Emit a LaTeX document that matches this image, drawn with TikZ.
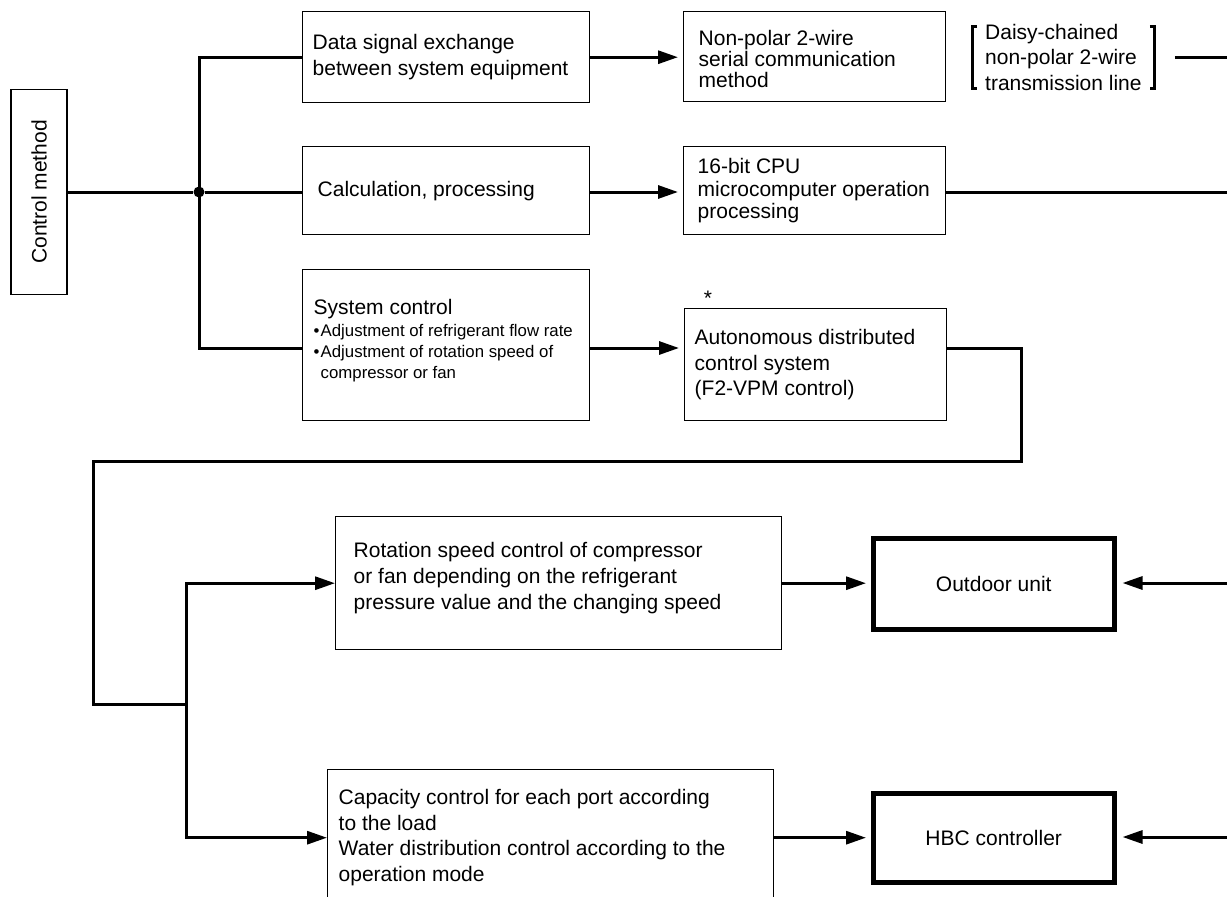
\documentclass[tikz,border=0pt]{standalone}
\usepackage{fontspec}
\setmainfont{Liberation Sans}
\usetikzlibrary{arrows.meta}

\tikzset{
  box/.style={draw, line width=1.4pt, align=flush left, anchor=north west, inner ysep=0pt},
  unitbox/.style={draw, line width=4.5pt, align=center, anchor=north west},
  wire/.style={line width=3pt},
  feed/.style={wire, -{Triangle[length=20pt,width=13pt]}, shorten >=5pt},
}

\begin{document}
\begin{tikzpicture}[x=1pt, y=-1pt, font=\fontsize{21}{26}\selectfont]
    \useasboundingbox (0,0) rectangle (1227,897);
    \clip (0,0) rectangle (1227,897);
    % 左侧总框
    \node[draw, line width=1.4pt, rotate=90, minimum width=205pt, minimum height=56pt] (ctrl) at (39,192) {Control method};
    \node[circle, fill, inner sep=0pt, minimum size=11pt] (dot) at (199,192) {};
    % 第一列
    \node[box, minimum width=287pt, minimum height=91pt, inner xsep=10pt, text width=267pt] (data) at (302,11)
        {Data signal exchange\\between system equipment};
    \node[box, minimum width=287pt, minimum height=88pt, inner xsep=15pt, text width=257pt] (calc) at (302,146)
        {Calculation, processing};
    \node[box, minimum width=287pt, minimum height=151pt, inner xsep=11pt, text width=265pt] (sysctl) at (302,269)
        {{\fontsize{21}{26}\selectfont System control}\\
         \fontsize{16.8}{21.5}\selectfont
         \makebox[7pt][l]{\textbullet}Adjustment of refrigerant flow rate\\
         \makebox[7pt][l]{\textbullet}Adjustment of rotation speed of\\[-5pt]
         \hspace*{7pt}compressor or fan\rule[-12pt]{0pt}{1pt}};
    % 第二列
    \node[box, minimum width=262pt, minimum height=90pt, inner xsep=15pt, text width=232pt,
          font=\fontsize{21}{21}\selectfont] (serial) at (683,11)
        {\rule{0pt}{20pt}Non-polar 2-wire\\serial communication\\method};
    \node[box, minimum width=262pt, minimum height=88pt, inner xsep=14pt, text width=234pt,
          font=\fontsize{21}{22.5}\selectfont] (cpu) at (683,146)
        {16-bit CPU\\microcomputer operation\\processing};
    \node[box, minimum width=262pt, minimum height=112pt, inner xsep=10pt, text width=242pt,
          font=\fontsize{21}{25.5}\selectfont] (auto) at (684,308)
        {Autonomous distributed\\control system\\(F2-VPM control)};
    \node[anchor=base] (star) at (708,305) {*};
    % 传输线说明 (方括号)
    \node[anchor=west, align=flush left, inner xsep=13pt, inner ysep=0pt,
          font=\fontsize{21}{25.5}\selectfont] (daisy) at (972,57)
        {Daisy-chained\\non-polar 2-wire\\transmission line};
    \draw[line width=3pt] ([xshift=5pt,yshift=31pt]daisy.west) -| ([yshift=-31pt]daisy.west) -- ++(5pt,0);
    \draw[line width=3pt] ([xshift=-5pt,yshift=31pt]daisy.east) -| ([yshift=-31pt]daisy.east) -- ++(-5pt,0);
    % 下半部分
    \node[box, minimum width=446pt, minimum height=133pt, inner xsep=18pt, text width=410pt] (rot) at (335,516)
        {Rotation speed control of compressor\\or fan depending on the refrigerant\\pressure value and the changing speed\rule[-14pt]{0pt}{1pt}};
    \node[box, minimum width=446pt, minimum height=136pt, inner xsep=11pt, text width=424pt,
          font=\fontsize{21}{25.5}\selectfont] (cap) at (327,769)
        {Capacity control for each port according\\to the load\\Water distribution control according to the\\operation mode};
    \node[unitbox, minimum width=241pt, minimum height=91pt] (outdoor) at (871,536) {Outdoor unit};
    \node[unitbox, minimum width=241pt, minimum height=89pt] (hbc) at (871,791) {HBC controller};
    % 辅助坐标
    \coordinate (y3) at (0,348);
    \coordinate (r2) at (1227,192);
    \coordinate (r3) at (1227,583);
    \coordinate (r4) at (1227,837);
    \coordinate (k1) at (1021,461);
    \coordinate (k2) at (93,704);
    \coordinate (fork) at (186,704);
    % 连线
    \draw[wire] (ctrl) -- (dot);
    \draw[wire] (data.west) -| (dot.center) |- (sysctl.west |- y3);
    \draw[wire] (dot) -- (dot -| calc.west);
    \draw[feed] (data.east) -- (data.east -| serial.west);
    \draw[feed] (calc.east |- dot) -- (cpu.west |- dot);
    \draw[feed] (sysctl.east |- y3) -- (auto.west |- y3);
    \draw[wire] ([xshift=20pt]daisy.east) -- (daisy.east -| r2);
    \draw[wire] (cpu.east |- r2) -- (r2);
    \draw[wire] (auto.east |- y3) -| (k1) -| (k2) -- (fork);
    \draw[feed, shorten >=0pt] (fork) |- (rot.west);
    \draw[feed, shorten >=0pt] (fork) |- (cap.west);
    \draw[feed] (rot.east) -- (rot.east -| outdoor.west);
    \draw[feed] (cap.east) -- (cap.east -| hbc.west);
    \draw[feed, shorten >=6pt] (r3) -- (r3 -| outdoor.east);
    \draw[feed, shorten >=6pt] (r4) -- (r4 -| hbc.east);
\end{tikzpicture}
\end{document}
